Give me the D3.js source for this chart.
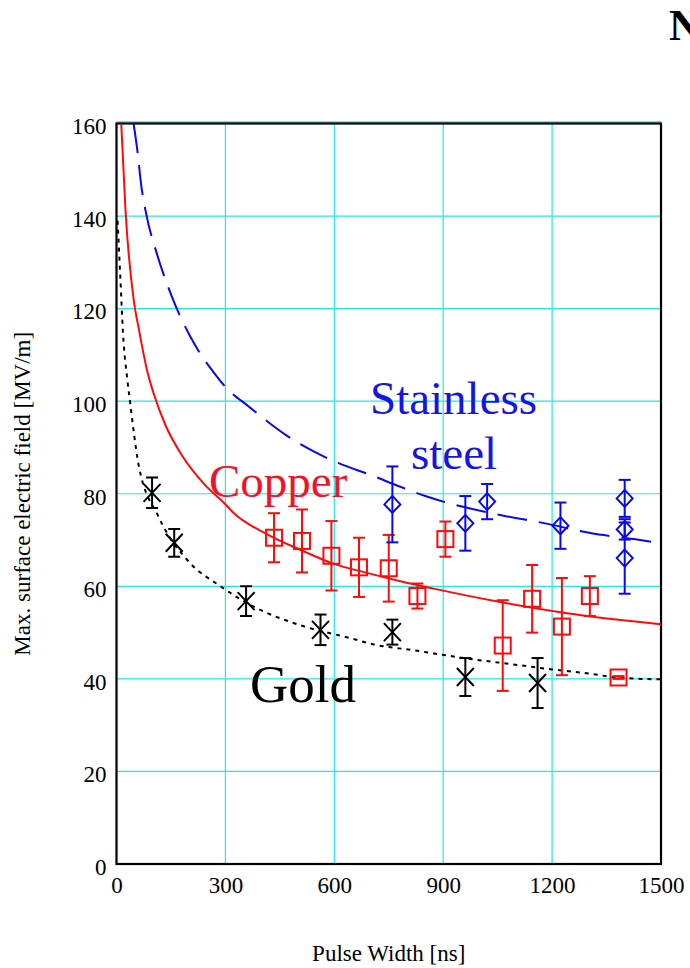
<!DOCTYPE html>
<html>
<head>
<meta charset="utf-8">
<script src="https://cdn.jsdelivr.net/npm/d3@7/dist/d3.min.js"></script>
<style>
  html, body { margin: 0; padding: 0; background: #fff; }
  svg { display: block; }
  text { font-family: "Liberation Serif", "DejaVu Serif", serif; }
</style>
</head>
<body>
<svg id="chart" width="690" height="968"></svg>
<script>
// Measured breakdown fields vs pulse width, with fitted trend curves
const xTicks = [0, 300, 600, 900, 1200, 1500];
const yTicks = [0, 20, 40, 60, 80, 100, 120, 140, 160];

// Gold measurements
const goldX   = [98, 159, 357, 562, 760, 961, 1160];
const goldY   = [80.2, 69.4, 56.8, 50.6, 50.1, 40.4, 39.1];
const goldErr = [3.3, 3.0, 3.2, 3.3, 2.7, 4.1, 5.4];

// Copper measurements
const copperX   = [434, 511, 592, 668, 750, 829, 906, 1064, 1145, 1227, 1304, 1383];
const copperY   = [70.5, 69.8, 66.6, 64.1, 63.9, 57.9, 70.2, 47.2, 57.3, 51.3, 57.9, 40.3];
const copperErr = [5.3, 6.8, 7.5, 6.4, 7.2, 2.7, 3.8, 9.8, 7.3, 10.5, 4.3, 0.3];

// Stainless steel measurements
const steelX   = [760, 961, 1021, 1223, 1400, 1400, 1400];
const steelY   = [77.7, 73.6, 78.3, 73.1, 79.0, 72.3, 66.1];
const steelErr = [8.2, 5.9, 3.8, 5.0, 4.0, 2.2, 7.7];

// Trend curves
const steelCurveT  = [47, 60, 66, 83, 108, 149, 201, 222, 273, 300, 365, 470, 612, 699, 782, 855, 1057, 1181, 1305, 1425, 1500];
const steelCurveE  = [160, 152.5, 148, 140, 132.7, 123.3, 114.3, 111.4, 105.7, 103.1, 98.8, 92.5, 86.6, 84.1, 81.5, 79.4, 75.4, 73.6, 71.5, 70.2, 69.3];
const copperCurveT = [13, 25, 48, 62, 85, 103, 135, 181, 245, 298, 322, 414, 506, 597, 690, 782, 874, 1057, 1241, 1416, 1500];
const copperCurveE = [160, 141, 121.5, 115.4, 106.4, 101.5, 94.8, 88.2, 81.8, 77.9, 75.9, 71.3, 67.9, 64.9, 62.9, 61.1, 59.5, 56.6, 54.2, 52.5, 51.8];
const goldCurveT   = [3, 11, 18, 30, 39, 48, 61, 116, 203, 281, 378, 506, 644, 717, 818, 874, 966, 1066, 1195, 1305, 1379, 1498];
const goldCurveE   = [139, 126, 114.6, 104.6, 98.8, 93.1, 86.2, 75, 65, 60.3, 55.6, 51.6, 48.8, 47.3, 46.2, 45.5, 44.4, 43.4, 42.1, 41.1, 40.3, 39.9];

const BLUE = "#0808f0", RED = "#ff0a0a", BLACK = "#000", GRID = "#22e8e8";

const svg = d3.select("#chart");
const plotL = 116.5, plotR = 661, plotT = 123.5, plotB = 864;
const x = d3.scaleLinear().domain([0, 1500]).range([plotL, plotR]);
const y = d3.scaleLinear().domain([0, 160]).range([plotB, plotT]);

svg.append("defs").append("clipPath").attr("id", "plot")
  .append("rect").attr("x", plotL).attr("y", plotT).attr("width", plotR - plotL).attr("height", plotB - plotT);

// grid
const grid = svg.append("g");
grid.selectAll("line.gx").data(xTicks).join("line")
  .attr("x1", d => x(d)).attr("x2", d => x(d)).attr("y1", plotT).attr("y2", plotB)
  .attr("stroke", GRID).attr("stroke-width", 1.2);
grid.selectAll("line.gy").data(yTicks).join("line")
  .attr("x1", plotL).attr("x2", plotR).attr("y1", d => y(d)).attr("y2", d => y(d))
  .attr("stroke", GRID).attr("stroke-width", 1.2);
// top grid line shows just above the frame
grid.append("line").attr("x1", plotL).attr("x2", plotR).attr("y1", plotT - 1.5).attr("y2", plotT - 1.5)
  .attr("stroke", GRID).attr("stroke-width", 1.5);

// frame
svg.append("rect").attr("x", plotL).attr("y", plotT).attr("width", plotR - plotL).attr("height", plotB - plotT)
  .attr("fill", "none").attr("stroke", BLACK).attr("stroke-width", 2.2);

// axes (labels only; frame drawn above)
const xAxis = svg.append("g").attr("transform", `translate(0,${plotB})`)
  .call(d3.axisBottom(x).tickValues(xTicks).tickSize(0).tickPadding(13).tickFormat(d3.format("d")));
xAxis.select(".domain").remove();
xAxis.selectAll("text").attr("font-size", 23).attr("fill", "#000");

const yAxis = svg.append("g").attr("transform", `translate(${plotL},0)`)
  .call(d3.axisLeft(y).tickValues(yTicks).tickSize(0).tickPadding(10).tickFormat(d3.format("d")));
yAxis.select(".domain").remove();
yAxis.selectAll("text").attr("font-size", 23).attr("fill", "#000").attr("dy", "0.45em");

// axis titles
svg.append("text").attr("x", (plotL + plotR) / 2).attr("y", 961)
  .attr("text-anchor", "middle").attr("font-size", 23).text("Pulse Width [ns]");
svg.append("text").attr("transform", `translate(30,${(plotT + plotB) / 2}) rotate(-90)`)
  .attr("text-anchor", "middle").attr("font-size", 23).text("Max. surface electric field [MV/m]");

// curves
const plot = svg.append("g").attr("clip-path", "url(#plot)");
const line = d3.line().x(d => x(d[0])).y(d => y(d[1])).curve(d3.curveMonotoneX);

plot.append("path").datum(d3.zip(steelCurveT, steelCurveE)).attr("d", line)
  .attr("fill", "none").attr("stroke", BLUE).attr("stroke-width", 2).attr("stroke-dasharray", "30,12");
plot.append("path").datum(d3.zip(copperCurveT, copperCurveE)).attr("d", line)
  .attr("fill", "none").attr("stroke", RED).attr("stroke-width", 2);
plot.append("path").datum(d3.zip(goldCurveT, goldCurveE)).attr("d", line)
  .attr("fill", "none").attr("stroke", BLACK).attr("stroke-width", 2).attr("stroke-dasharray", "4,5");

// error bars
function errorBars(xs, ys, es, color) {
  const g = plot.append("g").attr("stroke", color).attr("stroke-width", 2).attr("fill", "none");
  const data = d3.zip(xs, ys, es);
  const capW = 6;
  g.selectAll("line.v").data(data).join("line")
    .attr("x1", d => x(d[0])).attr("x2", d => x(d[0]))
    .attr("y1", d => y(d[1] + d[2])).attr("y2", d => y(d[1] - d[2]));
  g.selectAll("line.t").data(data).join("line")
    .attr("x1", d => x(d[0]) - capW).attr("x2", d => x(d[0]) + capW)
    .attr("y1", d => y(d[1] + d[2])).attr("y2", d => y(d[1] + d[2]));
  g.selectAll("line.b").data(data).join("line")
    .attr("x1", d => x(d[0]) - capW).attr("x2", d => x(d[0]) + capW)
    .attr("y1", d => y(d[1] - d[2])).attr("y2", d => y(d[1] - d[2]));
  return { g, data };
}

// gold: X markers
const gold = errorBars(goldX, goldY, goldErr, BLACK);
gold.g.selectAll("path.m").data(gold.data).join("path")
  .attr("d", d => {
    const cx = x(d[0]), cy = y(d[1]), w = 8.5, h = 9;
    return `M${cx - w},${cy - h}L${cx + w},${cy + h}M${cx - w},${cy + h}L${cx + w},${cy - h}`;
  });

// copper: squares
const copper = errorBars(copperX, copperY, copperErr, RED);
copper.g.selectAll("rect.m").data(copper.data).join("rect")
  .attr("x", d => x(d[0]) - 8).attr("y", d => y(d[1]) - 8)
  .attr("width", 16).attr("height", 16);

// stainless steel: diamonds
const steel = errorBars(steelX, steelY, steelErr, BLUE);
steel.g.selectAll("path.m").data(steel.data).join("path")
  .attr("d", d => {
    const cx = x(d[0]), cy = y(d[1]), w = 8, h = 8.5;
    return `M${cx},${cy - h}L${cx + w},${cy}L${cx},${cy + h}L${cx - w},${cy}Z`;
  });

// series labels
svg.append("text").attr("x", 370).attr("y", 414).attr("font-size", 47).attr("fill", "#1414e6").text("Stainless");
svg.append("text").attr("x", 411).attr("y", 469).attr("font-size", 47).attr("fill", "#1414e6").text("steel");
svg.append("text").attr("x", 209).attr("y", 497).attr("font-size", 47).attr("fill", "#f01428").text("Copper");
svg.append("text").attr("x", 250).attr("y", 702).attr("font-size", 53).attr("fill", "#000").text("Gold");

// panel letter
svg.append("text").attr("x", 669).attr("y", 40).attr("font-size", 44).attr("font-weight", "bold").text("N");
</script>
</body>
</html>
